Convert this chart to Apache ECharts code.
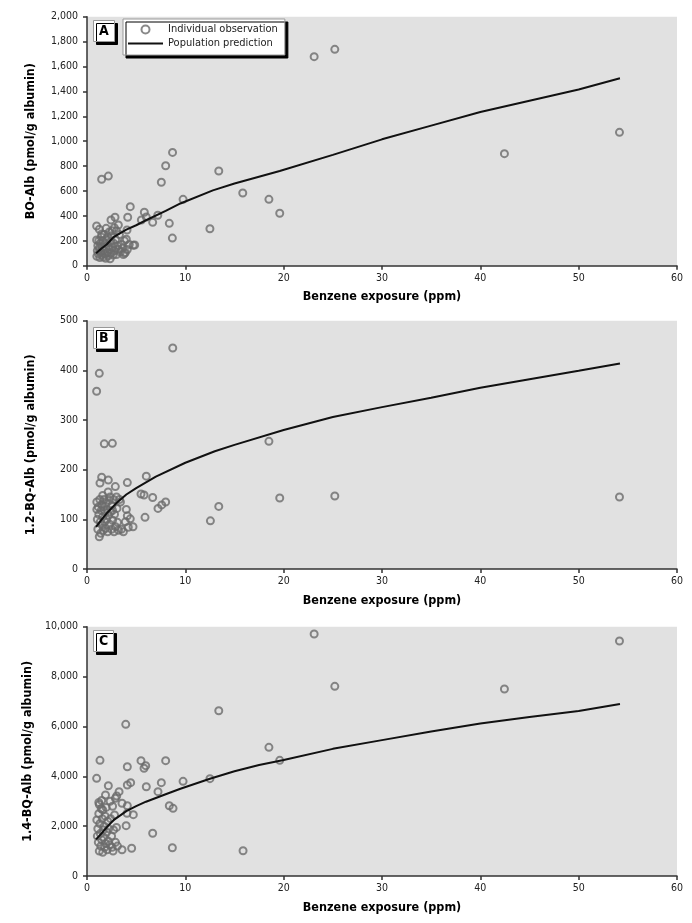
<!DOCTYPE html>
<html>
<head>
<meta charset="utf-8">
<script src="https://cdn.jsdelivr.net/npm/echarts@6/dist/echarts.min.js"></script>
<style>
html,body{margin:0;padding:0;background:#fff;}
#chart{width:692px;height:923px;}
</style>
</head>
<body>
<div id="chart"></div>
<script>
// ---------- DATA ----------
const panelLabels = ['A', 'B', 'C'];
const xAxisTitle = 'Benzene exposure (ppm)';
const yAxisTitles = ['BO-Alb (pmol/g albumin)', '1.2-BQ-Alb (pmol/g albumin)', '1.4-BQ-Alb (pmol/g albumin)'];
const legendNames = ['Individual observation', 'Population prediction'];

// Panel A: BO-Alb observations [ppm, pmol/g]
const obsA = [
  [1.49,694],[2.17,720],[8.7,910],[8.0,803],[7.56,670],[13.4,761],[9.77,533],[15.84,584],
  [18.5,533],[19.6,421],[12.5,297],[8.37,340],[8.68,222],[4.4,474],[7.2,405],[6.68,348],
  [5.83,429],[6.03,391],[5.53,367],[4.14,389],[2.85,389],[2.44,367],[3.19,327],[2.78,305],
  [4.07,287],[4.0,212],[4.7,164],[4.85,166],[3.83,99],[0.98,319],[1.25,292],[0.98,206],
  [23.1,1679],[25.2,1738],[42.45,900],[54.15,1071],[3.9,107],[1.5,255],
  [1.0,75],[1.05,120],[1.1,160],[1.15,95],[1.2,200],[1.25,140],[1.3,65],[1.35,180],
  [1.4,110],[1.45,230],[1.5,85],[1.55,150],[1.6,200],[1.65,70],[1.7,125],[1.75,250],
  [1.8,95],[1.85,175],[1.9,60],[1.95,140],[2.0,210],[2.05,105],[2.1,230],[2.15,80],
  [2.2,160],[2.3,130],[2.35,55],[2.4,195],[2.45,100],[2.5,240],[2.6,150],[2.65,85],
  [2.7,180],[2.8,120],[2.9,210],[3.0,90],[3.1,160],[3.2,130],[3.3,250],[3.4,110],
  [3.5,170],[3.6,140],[3.7,90],[3.8,200],[4.1,130],[4.3,170],[2.55,280],[1.95,300],
  [3.0,280],[2.25,270]
];
const predA = [
  [0.92,100],[1.5,140],[2,170],[2.7,230],[4,290],[5,325],[6,365],[8,440],[9.5,500],
  [12.8,605],[15,660],[19.6,760],[25,890],[30,1015],[35,1125],[40,1235],[45,1325],
  [50,1415],[54.2,1505]
];

// Panel B: 1.2-BQ-Alb observations
const obsB = [
  [8.72,445],[1.25,394],[0.98,358],[1.76,252],[2.58,253],[18.5,257],[19.6,143],[13.4,126],
  [12.55,97],[6.03,187],[1.49,185],[1.32,173],[2.17,179],[2.88,166],[4.1,174],[5.49,151],
  [5.8,149],[6.68,144],[8.0,135],[7.6,129],[7.22,122],[5.9,104],[4.0,120],[4.1,107],
  [4.4,101],[4.68,85],[4.2,84],[25.2,147],[54.15,145],
  [1.0,135],[1.0,120],[1.05,100],[1.1,80],[1.15,125],[1.2,110],[1.25,65],[1.3,140],
  [1.35,95],[1.4,72],[1.45,118],[1.5,130],[1.55,88],[1.6,105],[1.65,78],[1.7,125],
  [1.75,140],[1.8,95],[1.85,115],[1.9,82],[1.95,132],[2.0,100],[2.05,120],[2.1,75],
  [2.2,108],[2.25,138],[2.3,90],[2.35,145],[2.4,115],[2.5,80],[2.55,128],[2.6,98],
  [2.7,140],[2.75,75],[2.8,110],[2.9,85],[3.0,145],[3.05,122],[3.1,94],[3.2,78],
  [3.3,140],[3.5,80],[3.7,75],[3.9,95],[2.15,155],[2.6,118],[1.6,148],[3.4,135]
];
const predB = [
  [0.92,85],[1.5,100],[2,112],[3,133],[4,150],[5,163],[7,186],[10,214],[13,237],
  [15,250],[20,280],[25,306],[30,326],[35,345],[40,365],[45,382],[50,399],[54.2,414]
];

// Panel C: 1.4-BQ-Alb observations
const obsC = [
  [3.94,6083],[13.4,6630],[18.5,5162],[19.6,4640],[12.5,3904],[1.32,4640],[0.98,3918],
  [5.49,4626],[5.97,4425],[5.8,4320],[8.0,4626],[4.1,4384],[4.44,3743],[4.1,3650],
  [6.03,3582],[7.56,3743],[9.77,3798],[7.22,3382],[2.17,3622],[3.26,3382],[3.02,3209],
  [2.88,3116],[1.88,3250],[1.49,3030],[1.25,2870],[8.37,2820],[8.75,2715],[3.56,2916],
  [4.1,2820],[4.07,2514],[4.71,2460],[3.98,2018],[6.68,1713],[3.56,1055],[4.54,1111],
  [8.68,1135],[15.87,1015],[23.1,9707],[25.2,7609],[42.45,7501],[54.15,9426],
  [1.0,2250],[1.05,1600],[1.1,1900],[1.15,1350],[1.2,2500],[1.25,1000],[1.3,2100],
  [1.35,1700],[1.4,1200],[1.45,2700],[1.5,1450],[1.55,2300],[1.6,950],[1.65,1850],
  [1.7,1550],[1.75,2000],[1.8,1150],[1.85,2400],[1.9,1300],[2.0,1750],[2.05,1050],
  [2.1,2200],[2.15,1400],[2.2,1900],[2.3,1250],[2.4,2300],[2.5,1600],[2.6,2800],
  [2.65,1000],[2.7,1850],[2.8,2450],[2.9,1350],[3.0,1950],[3.1,1200],[1.2,2950],
  [1.6,2650],[2.35,3000],[1.95,2750],[2.55,1150]
];
const predC = [
  [0.92,1470],[1.5,1720],[2,1950],[2.7,2240],[4,2600],[5,2800],[6,2980],[8,3280],
  [9.5,3500],[12.5,3900],[15,4200],[17.5,4450],[20,4650],[25,5100],[30,5450],
  [35,5800],[40,6120],[45,6380],[50,6620],[54.2,6900]
];

const xRange = {min: 0, max: 60, interval: 10};
const yRanges = [
  {min: 0, max: 2000, interval: 200},
  {min: 0, max: 500, interval: 100},
  {min: 0, max: 10000, interval: 2000}
];

// ---------- CHART ----------
const FONT = "'Liberation Sans Narrow', 'DejaVu Sans Condensed', sans-serif";
const grids = [
  {left: 87, top: 16.7, width: 590, height: 249},
  {left: 87, top: 320.7, width: 590, height: 248.3},
  {left: 87, top: 626.7, width: 590, height: 249.3}
];
const labelTops = [20, 327, 630];
const obsAll = [obsA, obsB, obsC];
const predAll = [predA, predB, predC];

const axisLineStyle = {color: '#333', width: 1.5};

const option = {
  animation: false,
  backgroundColor: '#fff',
  textStyle: {fontFamily: FONT},
  title: panelLabels.map((t, i) => ({
    text: t,
    left: 93,
    top: labelTops[i],
    padding: [3, 6, 3, 6],
    backgroundColor: '#fff',
    borderColor: '#999',
    borderWidth: 1,
    shadowColor: '#000',
    shadowBlur: 0,
    shadowOffsetX: 3,
    shadowOffsetY: 3,
    textStyle: {fontFamily: FONT, fontWeight: 'bold', fontSize: 14, color: '#000', lineHeight: 16}
  })),
  legend: {
    left: 123,
    top: 19,
    orient: 'vertical',
    itemWidth: 35,
    itemHeight: 8,
    itemGap: 3,
    padding: [5, 7, 6, 5],
    backgroundColor: '#fff',
    borderColor: '#999',
    borderWidth: 1,
    shadowColor: '#000',
    shadowBlur: 0,
    shadowOffsetX: 3,
    shadowOffsetY: 3,
    data: [
      {name: legendNames[0], icon: 'circle'},
      {name: legendNames[1], icon: 'path://M0,0 L35,0 L35,2 L0,2 Z'}
    ],
    textStyle: {fontFamily: FONT, fontSize: 11, color: '#222'},
    selectedMode: false
  },
  grid: grids.map(g => Object.assign({show: true, backgroundColor: '#e1e1e1', borderWidth: 0}, g)),
  xAxis: grids.map((g, i) => ({
    type: 'value',
    gridIndex: i,
    min: xRange.min, max: xRange.max, interval: xRange.interval,
    name: xAxisTitle,
    nameLocation: 'middle',
    nameGap: 25,
    nameTextStyle: {fontFamily: FONT, fontWeight: 'bold', fontSize: 12.5, color: '#000'},
    axisLine: {show: true, lineStyle: axisLineStyle},
    axisTick: {show: true, length: 4, lineStyle: axisLineStyle},
    axisLabel: {fontFamily: FONT, fontSize: 10.5, color: '#222', margin: 7},
    splitLine: {show: false}
  })),
  yAxis: grids.map((g, i) => ({
    type: 'value',
    gridIndex: i,
    min: yRanges[i].min, max: yRanges[i].max, interval: yRanges[i].interval,
    name: yAxisTitles[i],
    nameLocation: 'middle',
    nameRotate: 90,
    nameGap: 50,
    nameTextStyle: {fontFamily: FONT, fontWeight: 'bold', fontSize: 12.5, color: '#000'},
    axisLine: {show: true, lineStyle: axisLineStyle},
    axisTick: {show: true, length: 4, lineStyle: axisLineStyle},
    axisLabel: {
      fontFamily: FONT, fontSize: 10.5, color: '#222', margin: 9,
      formatter: v => v.toLocaleString('en-US')
    },
    splitLine: {show: false}
  })),
  series: []
};

obsAll.forEach((d, i) => {
  option.series.push({
    name: i === 0 ? legendNames[0] : 'obs' + panelLabels[i],
    type: 'scatter',
    xAxisIndex: i, yAxisIndex: i,
    data: d,
    symbol: 'circle',
    symbolSize: 7,
    itemStyle: {color: 'rgba(0,0,0,0)', borderColor: '#6c6c6c', borderWidth: 2},
    z: 2
  });
});
predAll.forEach((d, i) => {
  option.series.push({
    name: i === 0 ? legendNames[1] : 'pred' + panelLabels[i],
    type: 'line',
    xAxisIndex: i, yAxisIndex: i,
    data: d,
    showSymbol: false,
    symbol: 'none',
    smooth: false,
    lineStyle: {color: '#111', width: 2},
    itemStyle: {color: '#111'},
    z: 3
  });
});

const chart = echarts.init(document.getElementById('chart'), null, {renderer: 'canvas'});
chart.setOption(option);
</script>
</body>
</html>
